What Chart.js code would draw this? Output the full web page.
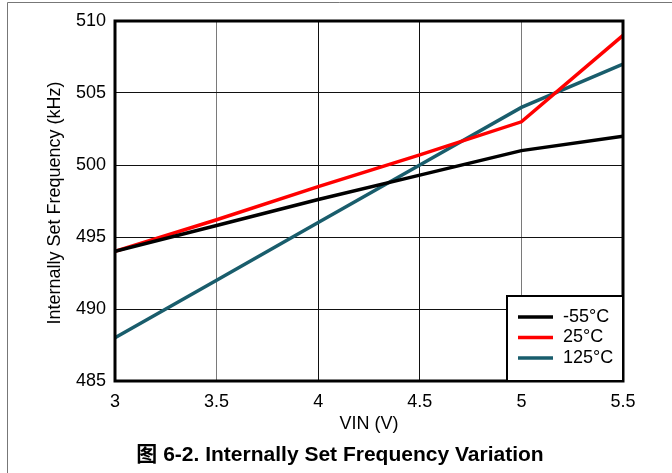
<!DOCTYPE html>
<html>
<head>
<meta charset="utf-8">
<script src="https://cdn.jsdelivr.net/npm/chart.js@4"></script>
<style>
html,body{margin:0;padding:0;background:#fff;}
#wrap{width:672px;height:473px;position:relative;}
</style>
</head>
<body>
<div id="wrap"><canvas id="c" width="672" height="473"></canvas></div>
<script>
const vin = [3, 3.5, 4, 4.5, 5, 5.5];
const seriesLabels = ['-55°C', '25°C', '125°C'];
const freqM55 = [494, 495.8, 497.6, 499.3, 501, 502];
const freq25 = [494, 496.2, 498.5, 500.7, 503, 509];
const freq125 = [488, 492, 496, 500, 504, 507];
const seriesColors = ['#000000', '#ff0000', '#195d6c'];
const xTicks = [3, 3.5, 4, 4.5, 5, 5.5];
const yTicks = [485, 490, 495, 500, 505, 510];
const xTitle = 'VIN (V)';
const yTitle = 'Internally Set Frequency (kHz)';
const caption = '图 6-2. Internally Set Frequency Variation';

const FONT = '"Liberation Sans", Arial, sans-serif';
const toPts = arr => arr.map((v, i) => ({x: vin[i], y: v}));

const decor = {
  id: 'decor',
  beforeDraw(chart) {
    const ctx = chart.ctx;
    ctx.save();
    ctx.fillStyle = '#fff';
    ctx.fillRect(0, 0, chart.width, chart.height);
    ctx.strokeStyle = '#777';
    ctx.lineWidth = 1;
    ctx.beginPath();
    ctx.moveTo(7.5, 473); ctx.lineTo(7.5, 2.5); ctx.lineTo(672, 2.5);
    ctx.stroke();
    ctx.restore();
  },
  afterDatasetsDraw(chart) {
    const ctx = chart.ctx;
    const a = chart.chartArea;
    ctx.save();
    // frame
    ctx.strokeStyle = '#000';
    ctx.lineWidth = 3;
    ctx.strokeRect(a.left, a.top, a.right - a.left, a.bottom - a.top);
    // titles
    ctx.fillStyle = '#000';
    ctx.font = '18px ' + FONT;
    ctx.textAlign = 'center';
    ctx.textBaseline = 'middle';
    ctx.fillText(xTitle, (a.left + a.right) / 2, 424);
    ctx.save();
    ctx.translate(55, (a.top + a.bottom) / 2 + 2);
    ctx.rotate(-Math.PI / 2);
    ctx.fillText(yTitle, 0, 0);
    ctx.restore();
    ctx.font = 'bold 21px ' + FONT + ', "Noto Sans CJK SC"';
    ctx.fillText(caption, 340, 455);
    // legend
    const lx = 507, ly = 296, lw = a.right - 507, lh = a.bottom - 296;
    ctx.fillStyle = '#fff';
    ctx.fillRect(lx, ly, lw, lh);
    ctx.lineWidth = 2;
    ctx.strokeStyle = '#000';
    ctx.strokeRect(lx, ly, lw, lh);
    ctx.font = '18px ' + FONT;
    ctx.textAlign = 'left';
    chart.data.datasets.forEach((ds, i) => {
      const y = 317 + i * 20.5;
      ctx.strokeStyle = ds.borderColor;
      ctx.lineWidth = 3.5;
      ctx.beginPath();
      ctx.moveTo(518, y); ctx.lineTo(553, y);
      ctx.stroke();
      ctx.fillStyle = '#000';
      ctx.fillText(ds.label, 563, y);
    });
    ctx.restore();
  }
};

new Chart(document.getElementById('c'), {
  type: 'line',
  data: {
    datasets: [
      {label: seriesLabels[0], data: toPts(freqM55), borderColor: seriesColors[0]},
      {label: seriesLabels[1], data: toPts(freq25), borderColor: seriesColors[1]},
      {label: seriesLabels[2], data: toPts(freq125), borderColor: seriesColors[2]}
    ].map(d => Object.assign(d, {borderWidth: 3.5, pointRadius: 0, tension: 0, fill: false, borderCapStyle: 'butt'}))
  },
  options: {
    responsive: false,
    animation: false,
    devicePixelRatio: 1,
    layout: {padding: {left: 0, top: 21, right: 49, bottom: 0}},
    plugins: {legend: {display: false}, tooltip: {enabled: false}, title: {display: false}},
    scales: {
      x: {
        type: 'linear', min: 3, max: 5.5,
        afterBuildTicks: s => { s.ticks = xTicks.map(v => ({value: v})); },
        afterFit: s => { s.height = 92; },
        ticks: {color: '#000', font: {family: FONT, size: 18}, padding: 10, maxRotation: 0,
          callback: v => String(v)},
        grid: {drawTicks: false, lineWidth: 1,
          color: c => (c.tick && (c.tick.value === 3.5 || c.tick.value === 5)) ? '#7a7a7a' : '#111'},
        border: {display: false}
      },
      y: {
        type: 'linear', min: 485, max: 510,
        afterBuildTicks: s => { s.ticks = yTicks.map(v => ({value: v})); },
        afterFit: s => { s.width = 115; },
        ticks: {color: '#000', font: {family: FONT, size: 18}, padding: 9,
          callback: v => String(v)},
        grid: {drawTicks: false, lineWidth: 1, color: '#111'},
        border: {display: false}
      }
    }
  },
  plugins: [decor]
});
</script>
</body>
</html>
